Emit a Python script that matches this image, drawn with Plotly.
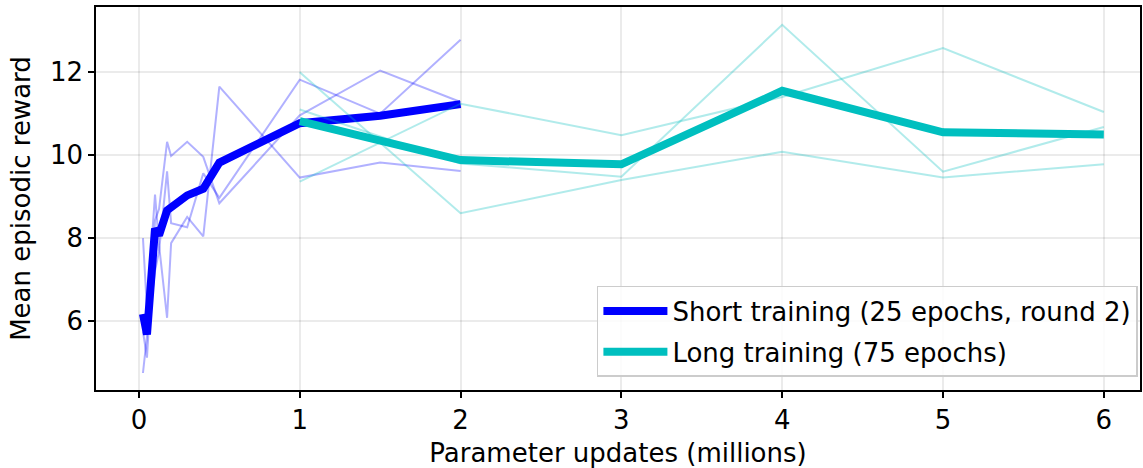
import plotly.graph_objects as go

# ---- data ----
short_x = [0.025, 0.05, 0.1, 0.125, 0.175, 0.2, 0.3, 0.4, 0.5, 1.0, 1.5, 2.0]
short_run1 = [4.75, 5.64, 7.21, 7.68, 9.61, 8.36, 8.26, 9.56, 8.97, 11.82, 11.00, 12.78]
short_run2 = [8.00, 6.28, 9.05, 7.83, 6.08, 7.88, 8.51, 8.04, 11.65, 9.46, 9.82, 9.62]
short_run3 = [5.75, 5.12, 8.43, 8.70, 10.32, 9.98, 10.32, 9.96, 8.84, 10.96, 12.04, 11.28]
short_mean = [6.17, 5.68, 8.23, 8.07, 8.67, 8.74, 9.03, 9.19, 9.82, 10.77, 10.95, 11.23]

long_x = [1, 2, 3, 4, 5, 6]
long_run1 = [12.00, 8.60, 9.40, 10.08, 9.46, 9.78]
long_run2 = [11.10, 9.80, 9.48, 13.14, 9.60, 10.68]
long_run3 = [9.36, 11.24, 10.48, 11.40, 12.58, 11.04]
long_mean = [10.82, 9.88, 9.78, 11.55, 10.55, 10.50]

x_ticks = [0, 1, 2, 3, 4, 5, 6]
y_ticks = [6, 8, 10, 12]

short_label = "Short training (25 epochs, round 2)"
long_label = "Long training (75 epochs)"

BLUE = "#0000ff"
TEAL = "#00bfbf"
FONT = "DejaVu Sans"
FS = 26

fig = go.Figure()

for run in (short_run1, short_run2, short_run3):
    fig.add_trace(go.Scatter(x=short_x, y=run, mode="lines",
                             line=dict(color=BLUE, width=2), opacity=0.3,
                             showlegend=False, hoverinfo="skip"))
fig.add_trace(go.Scatter(x=short_x, y=short_mean, mode="lines", name=short_label,
                         line=dict(color=BLUE, width=8), legendgroup="a"))

for run in (long_run1, long_run2, long_run3):
    fig.add_trace(go.Scatter(x=long_x, y=run, mode="lines",
                             line=dict(color=TEAL, width=2), opacity=0.3,
                             showlegend=False, hoverinfo="skip"))
fig.add_trace(go.Scatter(x=long_x, y=long_mean, mode="lines", name=long_label,
                         line=dict(color=TEAL, width=8), legendgroup="b"))

axis_common = dict(
    showline=True, linecolor="black", linewidth=1.5, mirror=True,
    ticks="outside", ticklen=6, tickwidth=1.5, tickcolor="black",
    showgrid=True, gridcolor="rgba(0,0,0,0.08)", gridwidth=1.5,
    zeroline=False, automargin=False,
    tickfont=dict(family=FONT, size=FS, color="black"),
)

fig.update_layout(
    width=1143, height=468,
    margin=dict(l=96, r=3, t=7, b=78),
    paper_bgcolor="white", plot_bgcolor="white",
    font=dict(family=FONT, size=FS, color="black"),
    xaxis=dict(range=[-0.267, 6.225], tickvals=x_ticks,
               title=dict(text="Parameter updates (millions)",
                          font=dict(family=FONT, size=FS), standoff=14),
               **axis_common),
    yaxis=dict(range=[4.34, 13.57], tickvals=y_ticks,
               title=dict(text="Mean episodic reward",
                          font=dict(family=FONT, size=FS), standoff=12),
               **axis_common),
    legend=dict(x=0.998, y=0.034, xanchor="right", yanchor="bottom",
                bgcolor="rgba(255,255,255,0.85)", bordercolor="#cccccc",
                borderwidth=1.5, font=dict(family=FONT, size=FS, color="black"),
                traceorder="grouped", tracegroupgap=4, itemwidth=64),
    showlegend=True,
)

fig.write_html("out.html", config={"displayModeBar": False},
               post_script="document.body.style.margin='0';document.body.style.overflow='hidden';")
